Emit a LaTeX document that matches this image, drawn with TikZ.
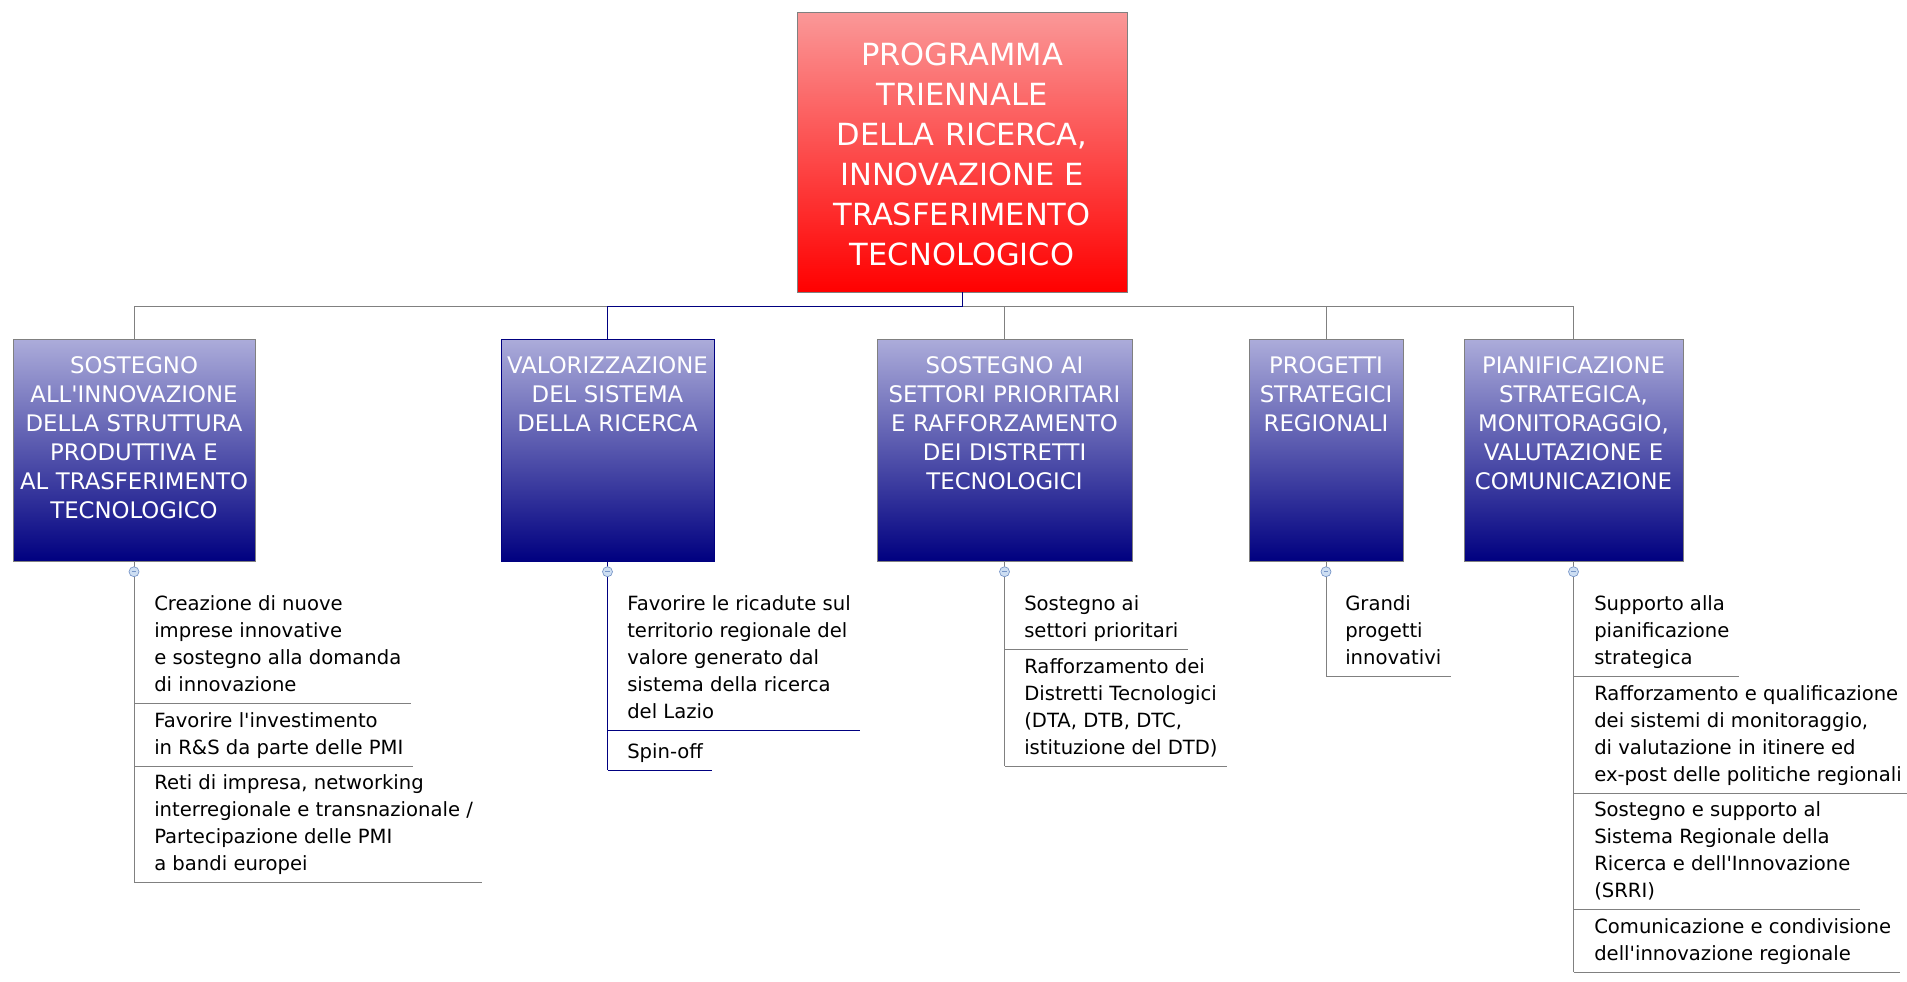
\documentclass[tikz,border=0pt]{standalone}
\usepackage{fontspec}
\usetikzlibrary{positioning,calc}
\newfontfamily\dvfont{DejaVu Sans}
\definecolor{linkgray}{RGB}{128,128,128}
\definecolor{navyblue}{RGB}{0,0,128}
\definecolor{lilac}{RGB}{172,172,218}
\definecolor{rosy}{RGB}{250,152,152}
\definecolor{minusfill}{RGB}{205,222,242}
\definecolor{minusdraw}{RGB}{120,150,200}

\newcommand{\rootfont}{\dvfont\fontsize{22.9pt}{30pt}\selectfont}
\newcommand{\goalfont}{\dvfont\fontsize{17.1pt}{21.75pt}\selectfont}
\newcommand{\leaffont}{\dvfont\fontsize{14.7pt}{20.25pt}\selectfont}
\newcommand{\q}{\textquotesingle}
\newcommand{\busy}{306}
\newcommand{\goaly}{450}

\tikzset{
  link/.style={draw=linkgray, line width=0.75pt},
  chosen/.style={draw=navyblue, line width=0.75pt},
  goal/.style={rectangle, draw=linkgray, line width=0.6pt,
    top color=lilac, bottom color=navyblue, text=white,
    font=\goalfont, align=center, inner sep=0pt,
    text height=25.5pt, text depth=141pt},
  item/.style={anchor=north west, align=left, font=\leaffont,
    inner xsep=6.75pt, inner ysep=2.9pt,
    execute at begin node=\strut, execute at end node=\strut},
  minus/.style={circle, draw=minusdraw, fill=minusfill, line width=0.5pt,
    minimum size=7.5pt, inner sep=0pt,
    path picture={\draw[minusdraw, line width=0.6pt]
      ([xshift=-1.8pt]path picture bounding box.center) --
      ([xshift=1.8pt]path picture bounding box.center);}},
}

\begin{document}
\begin{tikzpicture}[x=0.75pt, y=-0.75pt]
\clip (0,0) rectangle (1907,982);
\fill[white] (0,0) rectangle (1907,982);

% top box
\node[rectangle, draw=linkgray, line width=0.6pt, top color=rosy, bottom color=red,
      text=white, font=\rootfont, align=center, inner sep=0pt,
      text width=247.5pt, text height=39.75pt, text depth=170.25pt]
  (root) at (962,152) {PROGRAMMA\\TRIENNALE\\DELLA RICERCA,\\INNOVAZIONE E\\TRASFERIMENTO\\TECNOLOGICO};
\coordinate (bus) at (962,\busy);

%% the five lines of action
\node[goal, text width=181.5pt]  (sost)  at (134,\goaly)  {SOSTEGNO\\ALL\q INNOVAZIONE\\DELLA STRUTTURA\\PRODUTTIVA E\\AL TRASFERIMENTO\\TECNOLOGICO};
\node[goal, text width=159.75pt, draw=navyblue] (valo) at (607.5,\goaly) {VALORIZZAZIONE\\DEL SISTEMA\\DELLA RICERCA};
\node[goal, text width=191.25pt] (sett)  at (1004.5,\goaly) {SOSTEGNO AI\\SETTORI PRIORITARI\\E RAFFORZAMENTO\\DEI DISTRETTI\\TECNOLOGICI};
\node[goal, text width=115.5pt]  (strat) at (1326,\goaly) {PROGETTI\\STRATEGICI\\REGIONALI};
\node[goal, text width=164.25pt] (pian)  at (1573.5,\goaly) {PIANIFICAZIONE\\STRATEGICA,\\MONITORAGGIO,\\VALUTAZIONE E\\COMUNICAZIONE};

\foreach \g in {sost,sett,strat,pian}
  \draw[link] (root.south) -- (root.south |- bus) -| (\g.north);
\draw[chosen] (root.south) -- (root.south |- bus) -| (valo.north);

%% items under each box
\node[item] (sost1) at ($(sost.south)+(11,30.2)$) {Creazione di nuove\\imprese innovative\\e sostegno alla domanda\\di innovazione};
\node[item] (sost2) at ($(sost1.south west)+(0,4.2)$) {Favorire l\q investimento\\in R\&S da parte delle PMI};
\node[item] (sost3) at ($(sost2.south west)+(0,4.2)$) {Reti di impresa, networking\\interregionale e transnazionale /\\Partecipazione delle PMI\\a bandi europei};

\node[item] (valo1) at ($(valo.south)+(10.5,30.2)$) {Favorire le ricadute sul\\territorio regionale del\\valore generato dal\\sistema della ricerca\\del Lazio};
\node[item] (valo2) at ($(valo1.south west)+(0,4.2)$) {Spin-off};

\node[item] (sett1) at ($(sett.south)+(10.5,30.2)$) {Sostegno ai\\settori prioritari};
\node[item] (sett2) at ($(sett1.south west)+(0,4.2)$) {Rafforzamento dei\\Distretti Tecnologici\\(DTA, DTB, DTC,\\istituzione del DTD)};

\node[item] (strat1) at ($(strat.south)+(10,30.2)$) {Grandi\\progetti\\innovativi};

\node[item] (pian1) at ($(pian.south)+(11.5,30.2)$) {Supporto alla\\pianificazione\\strategica};
\node[item] (pian2) at ($(pian1.south west)+(0,4.2)$) {Rafforzamento e qualificazione\\dei sistemi di monitoraggio,\\di valutazione in itinere ed\\ex-post delle politiche regionali};
\node[item] (pian3) at ($(pian2.south west)+(0,4.2)$) {Sostegno e supporto al\\Sistema Regionale della\\Ricerca e dell\q Innovazione\\(SRRI)};
\node[item] (pian4) at ($(pian3.south west)+(0,4.2)$) {Comunicazione e condivisione\\dell\q innovazione regionale};

% stems and underlines
\draw[link] (sost.south) -- (sost.south |- sost3.south);
\foreach \i in {sost1,sost2,sost3}
  \draw[link] (sost.south |- \i.south) -- (\i.south east);
\draw[chosen] (valo.south) -- (valo.south |- valo2.south);
\foreach \i in {valo1,valo2}
  \draw[chosen] (valo.south |- \i.south) -- (\i.south east);
\draw[link] (sett.south) -- (sett.south |- sett2.south);
\foreach \i in {sett1,sett2}
  \draw[link] (sett.south |- \i.south) -- (\i.south east);
\draw[link] (strat.south) -- (strat.south |- strat1.south) -- (strat1.south east);
\draw[link] (pian.south) -- (pian.south |- pian4.south);
\foreach \i in {pian1,pian2,pian3,pian4}
  \draw[link] (pian.south |- \i.south) -- (\i.south east);

% collapse marks
\foreach \g in {sost,valo,sett,strat,pian}
  \node[minus, below=3.75pt of \g] (\g m) {};

\end{tikzpicture}
\end{document}
